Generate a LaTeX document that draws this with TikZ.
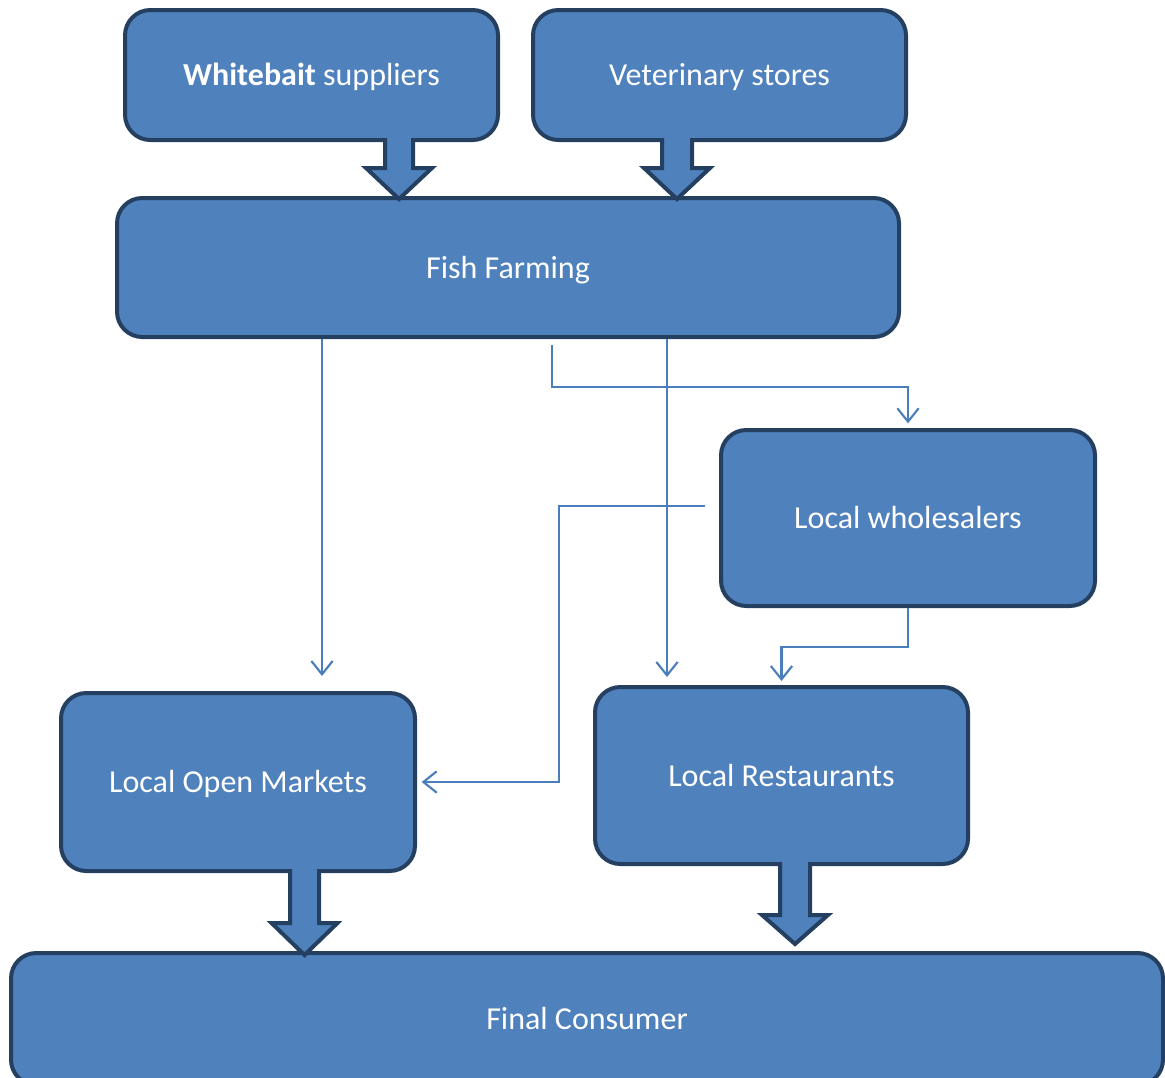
\documentclass[tikz,border=0pt]{standalone}
\usepackage{fontspec}
\setmainfont{Carlito}
\usetikzlibrary{arrows.meta}
\definecolor{bleu}{HTML}{4F81BD}
\definecolor{bord}{HTML}{243F60}
\definecolor{trait}{HTML}{4A7EBB}
\begin{document}
\begin{tikzpicture}[x=0.75pt, y=-0.75pt]
			\tikzset{boite/.style={rectangle, rounded corners=19pt, draw=bord, fill=bleu, line width=3pt, text=white, text height=21pt, text depth=5pt, font=\fontsize{24}{28}\selectfont}, fleche/.style={draw=trait, line width=1.6pt, -{Straight Barb[length=10pt, width=16pt]}}, grosse/.style={draw=bord, fill=bleu, line width=3pt, line join=miter}};

			\useasboundingbox (0,0) rectangle (1165,1078);

			\node[boite, minimum width=279.75pt, minimum height=97.5pt ] (w1) at ( 311.5,   75) {\textbf{Whitebait} suppliers};
			\node[boite, minimum width=279.75pt, minimum height=97.5pt ] (v1) at ( 719.5,   75) {Veterinary stores};
			\node[boite, minimum width=586.5pt,  minimum height=104.25pt] (f1) at (   508, 267.5) {Fish Farming};
			\node[boite, minimum width=280.5pt,  minimum height=132pt  ] (g1) at (   908,  518) {Local wholesalers};
			\node[boite, minimum width=265.5pt,  minimum height=133.5pt] (m1) at (   238,  782) {Local Open Markets};
			\node[boite, minimum width=279.75pt, minimum height=132.75pt] (r1) at ( 781.5, 775.5) {Local Restaurants};
			\node[boite, minimum width=864pt,    minimum height=99pt   ] (c1) at (   587, 1019) {Final Consumer};

			\coordinate (p1) at (399, 138);
			\coordinate (p2) at (677, 138);
			\coordinate (p3) at (304.5, 869);
			\coordinate (p4) at (795, 862);

			\draw[grosse] (p1) ++(-14,0) -- ++(0,30) -- ++(-19,0) -- ++(33,31) -- ++(33,-31) -- ++(-19,0) -- ++(0,-30);
			\draw[grosse] (p2) ++(-15,0) -- ++(0,30) -- ++(-18,0) -- ++(33,31) -- ++(33,-31) -- ++(-18,0) -- ++(0,-30);
			\draw[grosse] (p3) ++(-14.5,0) -- ++(0,54) -- ++(-18.5,0) -- ++(33,32) -- ++(33,-32) -- ++(-18.5,0) -- ++(0,-54);
			\draw[grosse] (p4) ++(-15,0) -- ++(0,53) -- ++(-18,0) -- ++(33,29) -- ++(33,-29) -- ++(-18,0) -- ++(0,-53);

			\coordinate (a) at (322, 676);
			\coordinate (b) at (667, 677);
			\coordinate (c0) at (552, 345);
			\coordinate (c1) at (908, 387);
			\coordinate (d0) at (705, 506);
			\coordinate (d1) at (559, 506);
			\coordinate (e1) at (908, 647);

			\draw[fleche] (f1.south -| a) -- (a);
			\draw[fleche] (f1.south -| b) -- (b);
			\draw[fleche] (c0) |- (c1) -- ([yshift=3.5pt]g1.north);
			\draw[fleche] (d0) -- (d1) |- ([xshift=3.5pt]m1.east);
			\draw[fleche] (g1.south) -- (e1) -| ([yshift=3pt]r1.north);

		\end{tikzpicture}
\end{document}
